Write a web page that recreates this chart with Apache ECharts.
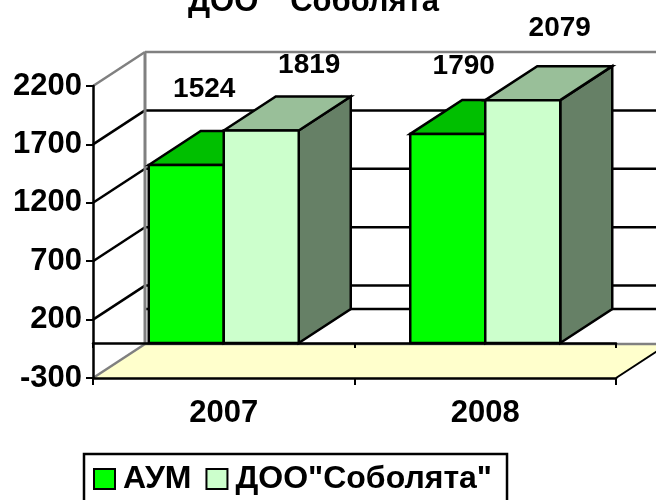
<!DOCTYPE html>
<html><head><meta charset="utf-8">
<style>html,body{margin:0;padding:0;background:#fff;overflow:hidden}#c{width:656px;height:500px}</style>
<script src="https://cdn.jsdelivr.net/npm/echarts@6/dist/echarts.min.js"></script>
</head><body><div id="c"></div>
<script>
const categories = ['2007', '2008'];
const seriesNames = ['АУМ', 'ДОО"Соболята"'];
const aumValues = [1524, 1790];
const dooValues = [1819, 2079];
const tickValues = [-300, 200, 700, 1200, 1700, 2200];

const DX = 52, DY = 34;
const BAR_FRAC = 75 / 261.5;
const FONT = '"Liberation Sans", Arial, sans-serif';
const LABEL_SHIFT = {0: [[18, -76], [16, -68]], 1: [[48, -65], [37, -72]]};

const chart = echarts.init(document.getElementById('c'), null, {renderer: 'canvas'});

function line(x1, y1, x2, y2, stroke, w) {
  return {type: 'line', shape: {x1, y1, x2, y2}, style: {stroke, lineWidth: w}, silent: true};
}
function poly(points, fill) {
  return {type: 'polygon', shape: {points}, style: {fill, stroke: '#000', lineWidth: 2.5, lineJoin: 'miter'}, silent: true};
}

function renderWalls(params, api) {
  if (params.dataIndex !== 0) return;
  const cs = params.coordSys;
  const L = cs.x, R = cs.x + cs.width;
  const yOf = v => api.coord([0, v])[1];
  const kids = [];
  const yFloor = yOf(-300);
  kids.push({type: 'polygon', shape: {points: [[L, yFloor], [R, yFloor], [R + DX, yFloor - DY], [L + DX, yFloor - DY]]},
    style: {fill: '#FFFFCC'}, silent: true});
  kids.push(line(R, yFloor, R + DX, yFloor - DY, '#000', 2));
  tickValues.forEach(v => {
    const y = yOf(v), top = v === 2200, bottom = v === -300;
    const c = top || bottom ? '#808080' : '#000';
    kids.push(line(L, y, L + DX, y - DY, c, 2.5));
    kids.push(line(L + DX, y - DY, R + DX, y - DY, c, 2.5));
  });
  const y0 = yOf(0);
  kids.push(line(L + DX, y0 - DY, R + DX, y0 - DY, '#000', 2.5));
  kids.push(line(L + DX, yOf(2200) - DY, L + DX, yFloor - DY, '#808080', 3));
  return {type: 'group', children: kids};
}

function makeBar(seriesIndex, front, top, side) {
  return function (params, api) {
    const catIdx = api.value(0);
    const v = api.value(1);
    const c = api.coord([catIdx, v]);
    const base = api.coord([catIdx, 0]);
    const w = api.size([1, 0])[0] * BAR_FRAC;
    const xl = seriesIndex === 0 ? c[0] - w : c[0];
    const xr = xl + w;
    const yt = c[1], yb = base[1];
    const shift = LABEL_SHIFT[seriesIndex][catIdx];
    return {type: 'group', children: [
      poly([[xr, yt], [xr + DX, yt - DY], [xr + DX, yb - DY], [xr, yb]], side),
      poly([[xl, yt], [xl + DX, yt - DY], [xr + DX, yt - DY], [xr, yt]], top),
      poly([[xl, yt], [xr, yt], [xr, yb], [xl, yb]], front),
      {type: 'text', silent: true, x: (xl + xr) / 2 + shift[0], y: yt + shift[1],
        style: {text: String(v), font: 'bold 28px ' + FONT, fill: '#000', align: 'center', verticalAlign: 'middle'}}
    ]};
  };
}

const axisLine = {lineStyle: {color: '#000', width: 2.5}};
chart.setOption({
  animation: false,
  backgroundColor: '#fff',
  title: {text: 'ДОО  "Соболята"', left: 183, top: -18,
    textStyle: {fontFamily: FONT, fontWeight: 'bold', fontSize: 31, color: '#000'}},
  legend: {
    left: 84, top: 454, padding: [9, 15, 15, 9], itemGap: 14, itemWidth: 21, itemHeight: 20,
    borderColor: '#000', borderWidth: 2.5, icon: 'rect',
    data: seriesNames,
    textStyle: {fontFamily: FONT, fontWeight: 'bold', fontSize: 32, color: '#000', padding: [0, 0, 0, 3]}
  },
  grid: {left: 93, right: 40, top: 86, bottom: 122, containLabel: false},
  xAxis: [
    {type: 'category', data: categories, z: 10,
      axisLine: {onZero: false, ...axisLine}, axisTick: {show: true, length: 7, lineStyle: {color: '#000', width: 2}},
      axisLabel: {fontFamily: FONT, fontWeight: 'bold', fontSize: 31, color: '#000', margin: 20}},
    {type: 'category', data: categories, z: 10, position: 'bottom',
      axisLine: {onZero: true, ...axisLine}, axisTick: {show: true, length: 5, lineStyle: {color: '#000', width: 2}},
      axisLabel: {show: false}}
  ],
  yAxis: {type: 'value', min: -300, max: 2200, z: 10,
    axisLine: {show: true, ...axisLine},
    axisTick: {show: true, length: 7, lineStyle: {color: '#000', width: 2}, customValues: tickValues},
    axisLabel: {fontFamily: FONT, fontWeight: 'bold', fontSize: 31, color: '#000', margin: 11, padding: [3, 0, 0, 0], customValues: tickValues, formatter: v => String(v)},
    splitLine: {show: false}},
  series: [
    {type: 'custom', name: 'walls', renderItem: renderWalls, data: [[0, 0]], z: 1, encode: {x: 0, y: 1}, silent: true, legendHoverLink: false},
    {type: 'custom', name: seriesNames[0], renderItem: makeBar(0, '#00FF00', '#00BF00', '#008000'), z: 3,
      itemStyle: {color: '#00FF00', borderColor: '#000', borderWidth: 2.5}, encode: {x: 0, y: 1},
      data: aumValues.map((v, i) => [i, v])},
    {type: 'custom', name: seriesNames[1], renderItem: makeBar(1, '#CCFFCC', '#99BF99', '#668066'), z: 4,
      itemStyle: {color: '#CCFFCC', borderColor: '#000', borderWidth: 2.5}, encode: {x: 0, y: 1},
      data: dooValues.map((v, i) => [i, v])}
  ]
});
</script></body></html>
